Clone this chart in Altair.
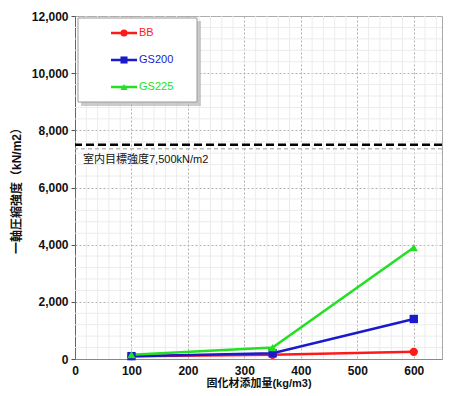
import altair as alt
import pandas as pd

# ---- data ----
x_vals = [100, 350, 600]
series_names = ["BB", "GS200", "GS225"]
bb = [100, 150, 250]
gs200 = [100, 200, 1400]
gs225 = [150, 400, 3900]
colors = ["#ff1a1a", "#1a1acc", "#22e022"]
shapes = ["circle", "square", "triangle-up"]
target = [7500]
target_label = ["室内目標強度7,500kN/m2"]
x_ticks = [0, 100, 200, 300, 400, 500, 600]
y_ticks = list(range(0, 12001, 500))
x_minor = [v for v in range(0, 651, 20) if v % 100 != 0]
y_minor = [v for v in range(0, 12001, 400) if v % 2000 != 0]

FONT = "Liberation Sans Narrow, Liberation Sans, Noto Sans CJK JP"
W, H = 367, 343

rows = []
for name, vals in zip(series_names, [bb, gs200, gs225]):
    for xv, yv in zip(x_vals, vals):
        rows.append({"series": name, "x": xv, "y": yv})
df = pd.DataFrame(rows)

xscale = alt.Scale(domain=[0, 650], nice=False)
yscale = alt.Scale(domain=[0, 12000], nice=False)
cscale = alt.Scale(domain=series_names, range=colors)
sscale = alt.Scale(domain=series_names, range=shapes)

xgrid = alt.Chart(pd.DataFrame({"x": x_minor})).mark_rule(color="#ececec", strokeWidth=1).encode(
    x=alt.X("x:Q", scale=xscale))
ygrid = alt.Chart(pd.DataFrame({"y": y_minor})).mark_rule(color="#ececec", strokeWidth=1).encode(
    y=alt.Y("y:Q", scale=yscale))

base = alt.Chart(df).encode(
    x=alt.X("x:Q", scale=xscale,
            axis=alt.Axis(values=x_ticks, title="固化材添加量(kg/m3)", grid=True,
                          gridDash=[2, 2], gridColor="#b0b0b0", labelFontSize=12,
                          labelFontWeight="bold", labelColor="#111", titleFontSize=11,
                          titleFontWeight="bold", titleColor="#111", labelFont=FONT,
                          titleFont=FONT, tickSize=0, labelPadding=6, titlePadding=1,
                          domainColor="#888", labelFlush=False)),
    y=alt.Y("y:Q", scale=yscale,
            axis=alt.Axis(values=y_ticks, title="一軸圧縮強度（kN/m2）", grid=True,
                          gridDash=[2, 2], gridColor="#b0b0b0",
                          labelExpr="datum.value % 2000 == 0 ? format(datum.value, ',') : ''",
                          labelFontSize=12, labelFontWeight="bold", labelColor="#111",
                          titleFontSize=12, titleFontWeight="bold", titleColor="#111",
                          labelFont=FONT, titleFont=FONT, tickSize=4, tickColor="#555",
                          labelPadding=3, titlePadding=8, domainColor="#666")),
    color=alt.Color("series:N", scale=cscale, legend=None),
)

lines = base.mark_line(strokeWidth=2.5)
points = base.mark_point(filled=True, size=70, opacity=1).encode(
    shape=alt.Shape("series:N", scale=sscale, legend=None))

tdf = pd.DataFrame({"y": target, "label": target_label})
trule = alt.Chart(tdf).mark_rule(color="#000", strokeWidth=2.5, strokeDash=[8, 4]).encode(
    y=alt.Y("y:Q", scale=yscale))
trule_shadow = alt.Chart(tdf).mark_rule(color="#bbb", strokeWidth=1.5, strokeDash=[4, 3]).encode(
    y=alt.Y("y:Q", scale=yscale), yOffset=alt.value(4))
ttext = alt.Chart(tdf).mark_text(align="left", baseline="middle", fontSize=11, font=FONT,
                                 color="#111", dy=15).encode(
    x=alt.value(8), y=alt.Y("y:Q", scale=yscale), text="label:N")

# legend (manual)
one = pd.DataFrame({"a": [0]})
lshadow = alt.Chart(one).mark_rect(color="#aaa", opacity=0.6).encode(
    x=alt.value(6), x2=alt.value(126), y=alt.value(5), y2=alt.value(90))
lbox = alt.Chart(one).mark_rect(fill="white", stroke="#999", strokeWidth=1).encode(
    x=alt.value(3), x2=alt.value(122), y=alt.value(2), y2=alt.value(86))
legend_layers = []
for i, (name, col, shp) in enumerate(zip(series_names, colors, shapes)):
    yy = 17 + i * 27
    d = pd.DataFrame({"series": [name]})
    legend_layers.append(alt.Chart(d).mark_rule(color=col, strokeWidth=2.5).encode(
        x=alt.value(36), x2=alt.value(62), y=alt.value(yy)))
    legend_layers.append(alt.Chart(d).mark_point(filled=True, color=col, shape=shp, size=50,
                                                 opacity=1).encode(
        x=alt.value(49), y=alt.value(yy)))
    legend_layers.append(alt.Chart(d).mark_text(align="left", baseline="middle", fontSize=11,
                                                font=FONT, color=col).encode(
        x=alt.value(64), y=alt.value(yy), text="series:N"))

chart = alt.layer(xgrid, ygrid, trule_shadow, trule, ttext, lines, points,
                  lshadow, lbox, *legend_layers).properties(
    width=W, height=H,
    autosize=alt.AutoSizeParams(type="none"),
    padding={"left": 75, "top": 16, "right": 9, "bottom": 37},
    background="white",
).configure_view(stroke="#aaa", strokeWidth=1)

chart.save("out.html", embed_options={"renderer": "svg", "actions": False})
